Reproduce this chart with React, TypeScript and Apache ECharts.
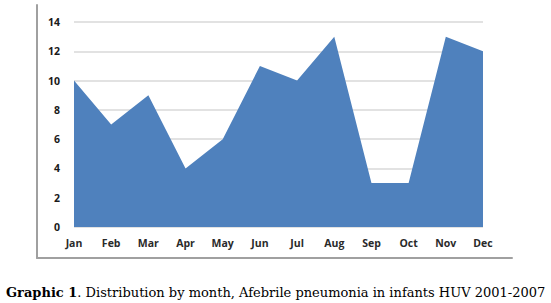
import React, { useEffect, useRef } from "react";
import * as echarts from "echarts";

const months = ["Jan", "Feb", "Mar", "Apr", "May", "Jun", "Jul", "Aug", "Sep", "Oct", "Nov", "Dec"];
const cases = [10, 7, 9, 4, 6, 11, 10, 13, 3, 3, 13, 12];
const captionBold = "Graphic 1";
const captionRest = ". Distribution by month, Afebrile pneumonia in infants HUV 2001-2007";

export default function App() {
  const ref = useRef<HTMLDivElement>(null);
  useEffect(() => {
    const chart = echarts.init(ref.current!, null, { renderer: "svg" });
    const frameLine = { show: true, lineStyle: { color: "#a0a0a0", width: 2 } };
    chart.setOption({
      animation: false,
      backgroundColor: "#ffffff",
      grid: [
        { left: 74, right: 68, top: 22, bottom: 76, containLabel: false },
        { left: 37, right: 39, top: 5, bottom: 45, containLabel: false },
      ],
      xAxis: [
        {
          type: "category",
          data: months,
          boundaryGap: false,
          axisLine: { show: false },
          axisTick: { show: false },
          axisLabel: {
            margin: 10,
            color: "#2a2a2a",
            fontFamily: "Open Sans",
            fontWeight: "bold",
            fontSize: 10.5,
          },
        },
        {
          type: "value",
          gridIndex: 1,
          min: 0,
          max: 1,
          axisLine: frameLine,
          axisTick: { show: false },
          axisLabel: { show: false },
          splitLine: { show: false },
        },
      ],
      yAxis: [
        {
          type: "value",
          min: 0,
          max: 14,
          interval: 2,
          axisLine: { show: false },
          axisTick: { show: false },
          splitLine: { lineStyle: { color: "#d9d9d9", width: 1.5 } },
          axisLabel: {
            margin: 14,
            color: "#1a1a1a",
            fontFamily: "Open Sans",
            fontWeight: "bold",
            fontSize: 10.5,
          },
        },
        {
          type: "value",
          gridIndex: 1,
          min: 0,
          max: 1,
          axisLine: frameLine,
          axisTick: { show: false },
          axisLabel: { show: false },
          splitLine: { show: false },
        },
      ],
      series: [
        {
          type: "line",
          data: cases,
          symbol: "none",
          lineStyle: { width: 0 },
          areaStyle: { color: "#4f81bd", opacity: 1 },
          z: 3,
        },
      ],
      graphic: {
        elements: [
          {
            type: "text",
            z: 100,
            x: 6,
            y: 286,
            style: {
              text: "{b|" + captionBold + "}" + captionRest,
              font: "13px 'DejaVu Serif'",
              fill: "#000",
              rich: { b: { fontWeight: "bold", fontFamily: "DejaVu Serif", fontSize: 13 } },
            },
          },
        ],
      },
    });
    return () => chart.dispose();
  }, []);
  return <div ref={ref} style={{ position: "fixed", left: 0, top: 0, width: 551, height: 303 }} />;
}
